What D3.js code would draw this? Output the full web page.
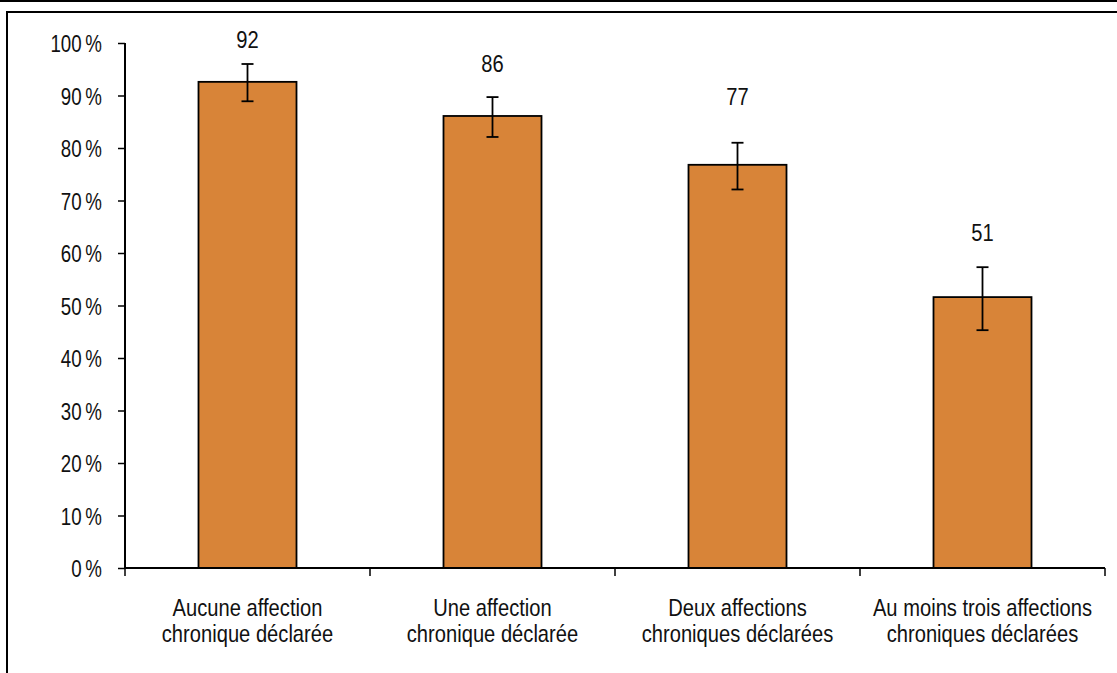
<!DOCTYPE html>
<html><head><meta charset="utf-8">
<script src="https://cdn.jsdelivr.net/npm/d3@7"></script>
<style>
body{margin:0;background:#fff;}
svg{display:block;}
text{font-family:"Liberation Sans",Arial,sans-serif;fill:#111;}
</style></head><body>
<svg id="c" width="1117" height="673"></svg>
<script>
const categories = [
  ["Aucune affection","chronique déclarée"],
  ["Une affection","chronique déclarée"],
  ["Deux affections","chroniques déclarées"],
  ["Au moins trois affections","chroniques déclarées"]
];
const values = [92.6, 86.1, 76.8, 51.6];
const errLow = [88.9, 82.1, 72.1, 45.3];
const errHigh = [96.0, 89.7, 81.0, 57.3];
const labels = ["92","86","77","51"];
const labelAt = [100.6, 96.2, 89.9, 64.0];
const yTicks = [0,10,20,30,40,50,60,70,80,90,100];

const svg = d3.select("#c");
const W = 1117, H = 673;
const FS = 24, SX = 0.84, SXT = 0.78;

// frame
svg.append("line").attr("x1",0).attr("x2",W).attr("y1",1).attr("y2",1).attr("stroke","#000").attr("stroke-width",2);
svg.append("path").attr("d",`M7,${H} V12 H${W}`).attr("fill","none").attr("stroke","#000").attr("stroke-width",2);

const x = d3.scaleBand().domain(d3.range(categories.length)).range([125,1105]).paddingInner(0.6).paddingOuter(0.3);
const xb = d3.scaleBand().domain(d3.range(categories.length)).range([125,1105]);
const y = d3.scaleLinear().domain([0,100]).range([568,43]);

// y axis
const ya = svg.append("g").attr("transform","translate(125,0)")
  .call(d3.axisLeft(y).tickValues(yTicks).tickSize(7).tickPadding(8).tickFormat(d=>d+"\u2009%"));
ya.select(".domain").attr("stroke","#000").attr("stroke-width",2).attr("d","M-0,43V568");
ya.selectAll(".tick line").attr("stroke","#000").attr("stroke-width",1.5);
ya.selectAll("text").attr("font-size",FS).attr("font-family","Liberation Sans, Arial, sans-serif")
  .attr("fill","#111").attr("dy","0.36em").attr("x",-23/SXT).attr("transform",`scale(${SXT},1)`);

// bars
svg.append("g").selectAll("rect").data(values).join("rect")
  .attr("x",(d,i)=>x(i)).attr("width",x.bandwidth())
  .attr("y",d=>y(d)).attr("height",d=>y(0)-y(d))
  .attr("fill","#D88438").attr("stroke","#000").attr("stroke-width",1.8);

// x axis
svg.append("line").attr("x1",125).attr("x2",1105).attr("y1",568).attr("y2",568).attr("stroke","#000").attr("stroke-width",2);
const bounds = d3.range(categories.length+1).map(i=> i<categories.length ? xb(i) : xb(i-1)+xb.bandwidth());
svg.append("g").selectAll("line").data(bounds).join("line")
  .attr("x1",d=>d).attr("x2",d=>d).attr("y1",568).attr("y2",576).attr("stroke","#000").attr("stroke-width",1.5);

// error bars
const eb = svg.append("g").selectAll("g").data(values).join("g");
eb.append("line").attr("x1",(d,i)=>x(i)+x.bandwidth()/2).attr("x2",(d,i)=>x(i)+x.bandwidth()/2)
  .attr("y1",(d,i)=>y(errLow[i])).attr("y2",(d,i)=>y(errHigh[i])).attr("stroke","#000").attr("stroke-width",1.8);
[errLow,errHigh].forEach(arr=>{
  eb.append("line").attr("x1",(d,i)=>x(i)+x.bandwidth()/2-6).attr("x2",(d,i)=>x(i)+x.bandwidth()/2+6)
    .attr("y1",(d,i)=>y(arr[i])).attr("y2",(d,i)=>y(arr[i])).attr("stroke","#000").attr("stroke-width",1.8);
});

// value labels
svg.append("g").selectAll("g").data(labels).join("g")
  .attr("transform",(d,i)=>`translate(${x(i)+x.bandwidth()/2},${y(labelAt[i])}) scale(${SX},1)`)
  .append("text").attr("dy","0.36em").attr("text-anchor","middle").attr("font-size",FS).text(d=>d);

// category labels
const cl = svg.append("g").selectAll("g").data(categories).join("g")
  .attr("transform",(d,i)=>`translate(${xb(i)+xb.bandwidth()/2},607) scale(${SX},1)`)
  .append("text").attr("text-anchor","middle").attr("font-size",FS);
cl.selectAll("tspan").data(d=>d).join("tspan")
  .attr("x",0).attr("dy",(d,j)=>j===0?"0.36em":"26px").text(d=>d);
</script></body></html>
